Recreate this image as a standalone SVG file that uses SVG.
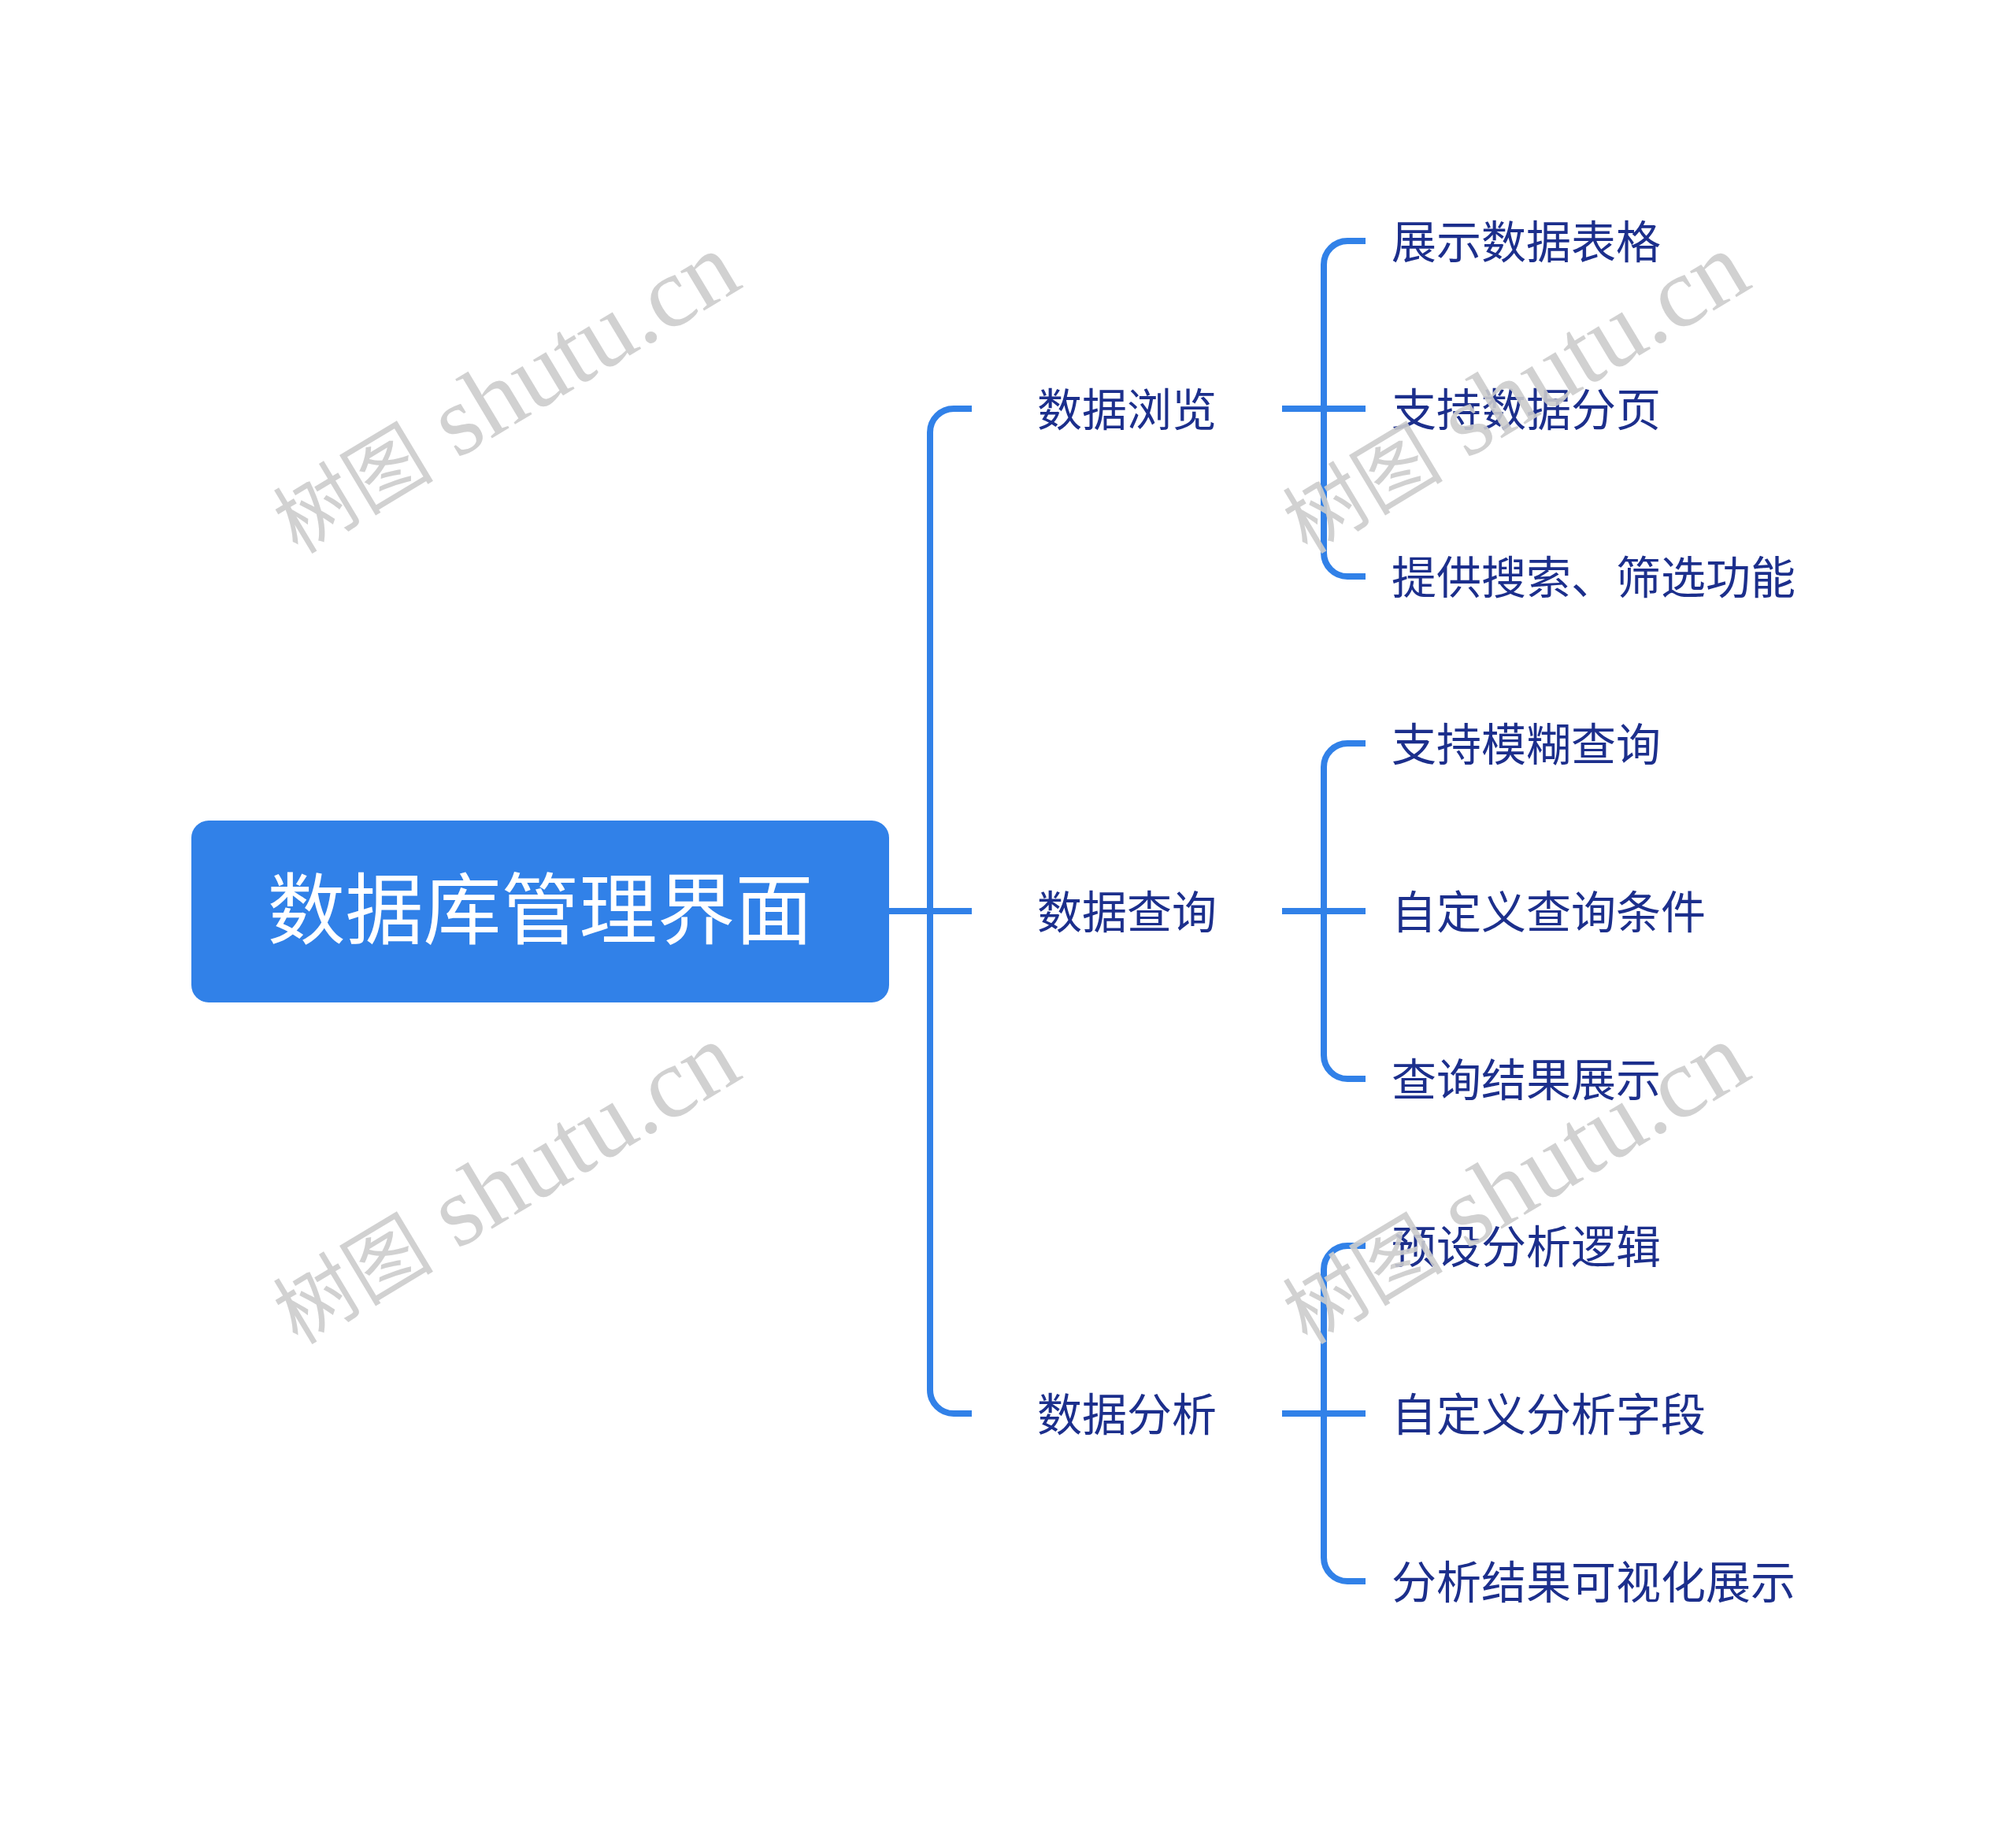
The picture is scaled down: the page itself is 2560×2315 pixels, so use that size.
<svg xmlns="http://www.w3.org/2000/svg" width="2560" height="2315" viewBox="0 0 2560 2315">
<style>
.wm{font-family:"Liberation Serif","Noto Sans CJK SC",serif;font-size:127px;fill:#cccccc;fill-opacity:0.9}
.wm .cj{font-size:102px}
.l1,.l2{font-family:"Noto Sans CJK SC","Noto Sans",sans-serif;font-size:57px;fill:#1c2f8c}
.root{font-family:"Noto Sans CJK SC","Noto Sans",sans-serif;font-size:99px;fill:#ffffff}
.ln{fill:none;stroke:#3181e8;stroke-width:8}
</style>
<rect width="2560" height="2315" fill="#ffffff"/>
<g id="connectors">
<path class="ln" d="M1129 1157 H1234"/>
<path class="ln" d="M1234 519 H1211 A30 30 0 0 0 1181 549 V1765 A30 30 0 0 0 1211 1795 H1234"/>
<path class="ln" d="M1628 519 H1734"/>
<path class="ln" d="M1734 306 H1711 A30 30 0 0 0 1681 336 V702 A30 30 0 0 0 1711 732 H1734"/>
<path class="ln" d="M1628 1157 H1734"/>
<path class="ln" d="M1734 944 H1711 A30 30 0 0 0 1681 974 V1340 A30 30 0 0 0 1711 1370 H1734"/>
<path class="ln" d="M1628 1795 H1734"/>
<path class="ln" d="M1734 1582 H1711 A30 30 0 0 0 1681 1612 V1978 A30 30 0 0 0 1711 2008 H1734"/>
</g>
<g id="root">
<rect x="243" y="1042" width="886" height="231" rx="22" fill="#3181e8"/>
<text class="root" x="686" y="1191" text-anchor="middle">数据库管理界面</text>
</g>
<g id="n1"><text class="l1" x="1317" y="541">数据浏览</text></g>
<g id="n2"><text class="l1" x="1317" y="1179">数据查询</text></g>
<g id="n3"><text class="l1" x="1317" y="1817">数据分析</text></g>
<g id="n1a"><text class="l2" x="1767" y="328">展示数据表格</text></g>
<g id="n1b"><text class="l2" x="1767" y="541">支持数据分页</text></g>
<g id="n1c"><text class="l2" x="1767" y="754">提供搜索、筛选功能</text></g>
<g id="n2a"><text class="l2" x="1767" y="966">支持模糊查询</text></g>
<g id="n2b"><text class="l2" x="1767" y="1179">自定义查询条件</text></g>
<g id="n2c"><text class="l2" x="1767" y="1392">查询结果展示</text></g>
<g id="n3a"><text class="l2" x="1767" y="1604">预设分析逻辑</text></g>
<g id="n3b"><text class="l2" x="1767" y="1817">自定义分析字段</text></g>
<g id="n3c"><text class="l2" x="1767" y="2030">分析结果可视化展示</text></g>
<g id="watermarks">
<text class="wm" x="662" y="534" text-anchor="middle" transform="rotate(-31 662 534)"><tspan class="cj">树图</tspan> shutu.cn</text>
<text class="wm" x="1944" y="534" text-anchor="middle" transform="rotate(-31 1944 534)"><tspan class="cj">树图</tspan> shutu.cn</text>
<text class="wm" x="662" y="1538" text-anchor="middle" transform="rotate(-31 662 1538)"><tspan class="cj">树图</tspan> shutu.cn</text>
<text class="wm" x="1944" y="1538" text-anchor="middle" transform="rotate(-31 1944 1538)"><tspan class="cj">树图</tspan> shutu.cn</text>
</g>
</svg>
